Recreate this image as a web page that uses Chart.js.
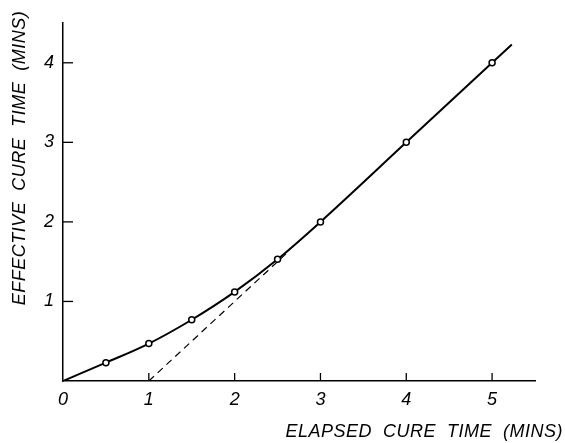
<!DOCTYPE html>
<html>
<head>
<meta charset="utf-8">
<script src="https://cdn.jsdelivr.net/npm/chart.js@4/dist/chart.umd.min.js"></script>
<style>
  html, body { margin: 0; padding: 0; background: #fff; }
  canvas { display: block; }
</style>
</head>
<body>
<canvas id="cureChart" width="565" height="443"></canvas>
<script>
// elapsed cure time (mins) vs effective cure time (mins)
const elapsed   = [0, 0.5, 1, 1.5, 2, 2.5, 3, 4, 5, 5.23];
const effective = [0, 0.23, 0.47, 0.77, 1.12, 1.53, 2.0, 3.0, 4.0, 4.23];
const hasMarker = [false, true, true, true, true, true, true, true, true, false];

// dashed asymptote
const dashX = [1, 2.6];
const dashY = [0, 1.6];

const xTicks = [0, 1, 2, 3, 4, 5];
const yTicks = [1, 2, 3, 4];

const xTitle = "ELAPSED  CURE  TIME  (MINS)";
const yTitle = "EFFECTIVE  CURE  TIME  (MINS)";

const FONT = "'Liberation Sans', sans-serif";

// small ticks pointing into the plot + axis titles
const decorations = {
  id: "decorations",
  afterDraw(chart) {
    const { ctx, scales: { x, y }, chartArea } = chart;
    ctx.save();
    ctx.strokeStyle = "#000";
    ctx.lineWidth = 1.3;
    xTicks.filter(v => v > 0).forEach(v => {
      const px = x.getPixelForValue(v);
      ctx.beginPath();
      ctx.moveTo(px, chartArea.bottom);
      ctx.lineTo(px, chartArea.bottom - 8);
      ctx.stroke();
    });
    yTicks.forEach(v => {
      const py = y.getPixelForValue(v);
      ctx.beginPath();
      ctx.moveTo(chartArea.left, py);
      ctx.lineTo(chartArea.left + 10, py);
      ctx.stroke();
    });

    ctx.fillStyle = "#000";
    ctx.font = "italic 18px " + FONT;
    ctx.letterSpacing = "0.5px";
    ctx.textAlign = "right";
    ctx.textBaseline = "middle";
    ctx.fillText(xTitle, 563, 432);

    ctx.translate(20, 158);
    ctx.rotate(-Math.PI / 2);
    ctx.textAlign = "center";
    ctx.fillText(yTitle, 0, 0);
    ctx.restore();
  }
};

const curve = elapsed.map((v, i) => ({ x: v, y: effective[i] }));
const dashed = dashX.map((v, i) => ({ x: v, y: dashY[i] }));

new Chart(document.getElementById("cureChart"), {
  type: "scatter",
  data: {
    datasets: [
      {
        data: curve,
        showLine: true,
        borderColor: "#000",
        borderWidth: 2,
        cubicInterpolationMode: "monotone",
        pointRadius: hasMarker.map(m => m ? 3 : 0),
        pointBackgroundColor: "#fff",
        pointBorderColor: "#000",
        pointBorderWidth: 1.5,
        order: 1
      },
      {
        data: dashed,
        showLine: true,
        borderColor: "#000",
        borderWidth: 1.2,
        borderDash: [7, 5],
        pointRadius: 0,
        order: 2
      }
    ]
  },
  options: {
    responsive: false,
    animation: false,
    layout: { padding: { top: 23, right: 30, left: 0, bottom: 0 } },
    plugins: {
      legend: { display: false },
      tooltip: { enabled: false }
    },
    scales: {
      x: {
        type: "linear",
        min: 0,
        max: 5.5,
        afterBuildTicks: s => { s.ticks = xTicks.map(v => ({ value: v })); },
        afterFit: s => { s.height = 62; },
        grid: { display: false, drawTicks: false },
        border: { display: true, color: "#000", width: 1.5 },
        ticks: {
          color: "#000",
          padding: 8,
          font: { family: FONT, size: 18, style: "italic" }
        }
      },
      y: {
        type: "linear",
        min: 0,
        max: 4.5,
        afterBuildTicks: s => { s.ticks = yTicks.map(v => ({ value: v })); },
        afterFit: s => { s.width = 63; },
        grid: { display: false, drawTicks: false },
        border: { display: true, color: "#000", width: 1.5 },
        ticks: {
          color: "#000",
          padding: 9,
          font: { family: FONT, size: 18, style: "italic" }
        }
      }
    }
  },
  plugins: [decorations]
});
</script>
</body>
</html>
